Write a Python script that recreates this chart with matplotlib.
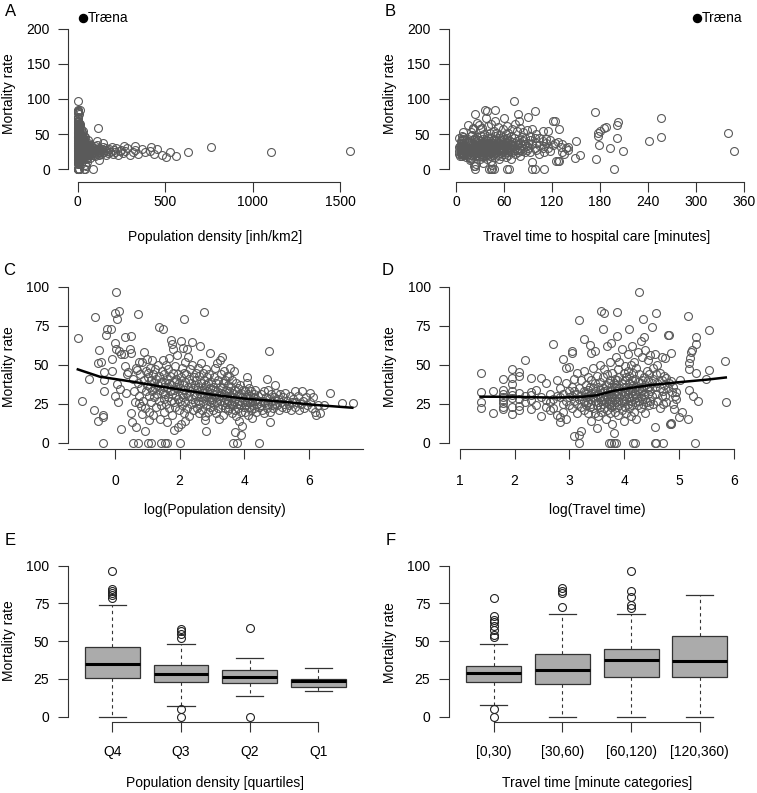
import numpy as np
import matplotlib
matplotlib.use("Agg")
import matplotlib.pyplot as plt

plt.rcParams['font.family'] = ['Liberation Sans', 'DejaVu Sans']
plt.rcParams['font.size'] = 10

W, H = 757, 793

# log(population density) vs mortality rate, one pair per municipality (panels A, C)
density_points = [
    (-1.13, 67.1), (-1.01, 26.9), (-0.81, 40.8), (-0.63, 80.8), (-0.64, 20.9), (-0.52, 13.9),
    (-0.51, 59.4), (-0.54, 51.3), (-0.42, 51.9), (-0.36, 17.7), (-0.37, 16.2), (-0.38, 0),
    (-0.35, 33.1), (-0.34, 40), (-0.33, 45.3), (-0.28, 69), (-0.25, 72.6), (-0.12, 72.6),
    (-0.1, 53.8), (-0.09, 46.2), (0, 29.9), (0.03, 96.8), (0.01, 83.3), (0.01, 64.1),
    (0.03, 59.8), (0.07, 79.5), (0.12, 84.4), (0.08, 26.1), (0.05, 37.6), (0.13, 58.8),
    (0.15, 34.4), (0.19, 57.1), (0.2, 8.8), (0.28, 56.6), (0.3, 49.1), (0.32, 67.9),
    (0.35, 32), (0.37, 43.8), (0.4, 45.5), (0.45, 59.8), (0.48, 68.4), (0.48, 19.2),
    (0.49, 57.3), (0.53, 13), (0.57, 0), (0.64, 10.3), (0.67, 46.6), (0.71, 0), (0.72, 82.3),
    (0.75, 51.9), (0.75, 25.6), (0.8, 23.7), (0.85, 18.4), (0.91, 58.3), (0.94, 7.7),
    (0.98, 53.4), (1.01, 0), (1.11, 0), (1.04, 14.5), (1.02, 44.9), (1.37, 74.4), (1.49, 72.6),
    (1.42, 0), (1.54, 0), (1.6, 0), (2.02, 0), (2.14, 79.1), (2.37, 64.5), (2.63, 62),
    (2.76, 84), (2.94, 57.3), (2.8, 7.5), (2.77, 14.5), (3.32, 55.1), (3.66, 0), (3.77, 0),
    (3.71, 6.6), (3.91, 4.9), (3.93, 10.7), (4.09, 42.3), (4.44, 0), (4.69, 40.8),
    (4.77, 58.8), (4.79, 13), (4.96, 37), (5.58, 33.1), (5.79, 33.1), (6.04, 31.6),
    (6.64, 31.6), (7.01, 25.2), (7.35, 25.6),
    (0.55, 41), (0.6, 33), (0.62, 26), (0.66, 48), (0.7, 38), (0.73, 30), (0.76, 44), (0.8, 35),
    (0.83, 52), (0.86, 27), (0.9, 40), (0.93, 22), (0.95, 46), (0.97, 33), (0.99, 37),
    (1.02, 42), (1.04, 30), (1.05, 20), (1.07, 48), (1.08, 36), (1.1, 26), (1.12, 40), (1.13, 53),
    (1.15, 33), (1.17, 44), (1.18, 18), (1.2, 38), (1.22, 29), (1.23, 47), (1.25, 35), (1.27, 23),
    (1.28, 41), (1.3, 31), (1.32, 50), (1.33, 37), (1.35, 27), (1.37, 43), (1.38, 15), (1.4, 34),
    (1.42, 39), (1.43, 24), (1.45, 46), (1.47, 32), (1.48, 53), (1.5, 36),
    (1.51, 28), (1.52, 44), (1.53, 20), (1.55, 38), (1.56, 31), (1.57, 50), (1.58, 25), (1.6, 41),
    (1.61, 35), (1.62, 13), (1.63, 47), (1.65, 29), (1.66, 38), (1.67, 22), (1.68, 54), (1.7, 33),
    (1.71, 43), (1.72, 27), (1.73, 66), (1.74, 37), (1.75, 18), (1.76, 63), (1.77, 31), (1.78, 45),
    (1.8, 60), (1.81, 26), (1.82, 39), (1.83, 8), (1.84, 34), (1.85, 49), (1.87, 23), (1.88, 41),
    (1.9, 30), (1.91, 56), (1.92, 36), (1.94, 10), (1.95, 44), (1.96, 28), (1.98, 38), (1.99, 21),
    (2.01, 35), (2.02, 27), (2.03, 65), (2.04, 42), (2.05, 12), (2.06, 31), (2.07, 48), (2.08, 24),
    (2.09, 61), (2.1, 37), (2.11, 29), (2.12, 45), (2.13, 19), (2.14, 34), (2.15, 52), (2.16, 14),
    (2.17, 39), (2.18, 26), (2.2, 44), (2.21, 32), (2.22, 60), (2.23, 22), (2.25, 36), (2.26, 55),
    (2.27, 30), (2.28, 41), (2.3, 17), (2.31, 33), (2.32, 47), (2.34, 25), (2.35, 38), (2.37, 28),
    (2.38, 50), (2.4, 35), (2.41, 21), (2.43, 42), (2.44, 31), (2.46, 26), (2.47, 37), (2.49, 45),
    (2.51, 30), (2.52, 40), (2.53, 22), (2.55, 34), (2.56, 48), (2.57, 27), (2.58, 36), (2.6, 19),
    (2.61, 43), (2.62, 31), (2.63, 25), (2.65, 38), (2.66, 51), (2.67, 29), (2.68, 34), (2.7, 21),
    (2.71, 45), (2.72, 32), (2.73, 27), (2.75, 40), (2.76, 35), (2.77, 17), (2.78, 30), (2.8, 47),
    (2.81, 24), (2.82, 37), (2.83, 29), (2.85, 42), (2.86, 33), (2.87, 20), (2.88, 38), (2.9, 27),
    (2.91, 31), (2.92, 44), (2.94, 23), (2.95, 35), (2.96, 29), (2.97, 39), (2.98, 26), (2.99, 32),
    (3.01, 28), (3.02, 36), (3.03, 21), (3.05, 42), (3.06, 31), (3.07, 25), (3.08, 48), (3.1, 34),
    (3.11, 19), (3.12, 29), (3.13, 38), (3.15, 51), (3.16, 26), (3.17, 33), (3.18, 22), (3.2, 40),
    (3.21, 30), (3.22, 15), (3.24, 36), (3.25, 53), (3.26, 27), (3.27, 32), (3.28, 44), (3.3, 24),
    (3.31, 35), (3.32, 29), (3.34, 18), (3.35, 38), (3.36, 46), (3.37, 26), (3.38, 31), (3.4, 22),
    (3.41, 40), (3.42, 28), (3.44, 34), (3.45, 43), (3.46, 25), (3.47, 30), (3.48, 37), (3.49, 21),
    (3.51, 27), (3.52, 43), (3.53, 33), (3.54, 22), (3.56, 48), (3.57, 30), (3.58, 25), (3.6, 36),
    (3.61, 19), (3.62, 29), (3.63, 40), (3.65, 24), (3.66, 32), (3.67, 27), (3.68, 46), (3.7, 21),
    (3.71, 34), (3.72, 28), (3.74, 38), (3.75, 17), (3.76, 30), (3.78, 25), (3.79, 35), (3.8, 22),
    (3.82, 31), (3.83, 14), (3.84, 27), (3.86, 37), (3.87, 24), (3.89, 32), (3.9, 20), (3.92, 29),
    (3.94, 26), (3.96, 34), (3.98, 23),
    (4.01, 27), (4.02, 33), (4.03, 20), (4.05, 29), (4.06, 24), (4.07, 38), (4.09, 26), (4.1, 31),
    (4.11, 18), (4.13, 28), (4.14, 35), (4.15, 23), (4.17, 30), (4.18, 26), (4.2, 21), (4.21, 33),
    (4.23, 27), (4.24, 16), (4.26, 29), (4.27, 24), (4.29, 31), (4.3, 22), (4.32, 27), (4.34, 34),
    (4.35, 20), (4.37, 28), (4.39, 25), (4.42, 30), (4.45, 23), (4.48, 27),
    (4.51, 24), (4.53, 31), (4.55, 21), (4.58, 27), (4.6, 33), (4.62, 19), (4.65, 26), (4.67, 29),
    (4.7, 22), (4.72, 34), (4.74, 25), (4.77, 28), (4.8, 20), (4.82, 31), (4.85, 24), (4.87, 27),
    (4.9, 22), (4.93, 29), (4.96, 25), (4.99, 32),
    (5.02, 24), (5.05, 28), (5.08, 21), (5.1, 31), (5.13, 26), (5.17, 23), (5.2, 29), (5.23, 25),
    (5.27, 32), (5.3, 22), (5.33, 27), (5.37, 24), (5.4, 30), (5.45, 21), (5.48, 26),
    (5.52, 28), (5.56, 23), (5.6, 26), (5.65, 30), (5.7, 21), (5.75, 25), (5.8, 27), (5.85, 22),
    (5.9, 29), (5.95, 24),
    (6.02, 26), (6.08, 22), (6.12, 29), (6.18, 20), (6.22, 18), (6.27, 24), (6.33, 19), (6.45, 24),
]

# travel time to hospital (minutes) vs mortality rate (panels B, D)
travel_points = [
    (4, 44.7), (4, 32.3), (4, 26.1), (4, 22.4), (5, 32.9), (5, 19.2),
    (6, 40.6), (6, 33.8), (6, 31.2), (6, 29.1), (6, 27.4), (6, 25.2), (6, 23.1), (6, 21.4),
    (7, 47), (7, 41.7), (7, 37.4), (7, 33.3), (7, 28.4), (7, 23.1), (7, 18.4), (7, 30.5),
    (8, 45.5), (8, 42.7), (8, 32), (8, 27.8), (8, 23.5), (8, 20.9), (9, 53), (9, 30), (9, 26),
    (10, 41.2), (10, 32.7), (10, 30.6), (10, 21.4), (10, 27.4), (11, 34), (11, 24),
    (12, 41.7), (12, 17.1), (12, 29), (13, 38.5), (13, 27.4), (13, 23.1), (14, 20.9), (14, 31), (14, 26),
    (15, 63.2), (15, 28), (15, 22), (16, 40), (16, 30), (16, 18),
    (17, 13), (17, 29.5), (17, 16.7), (17, 35), (18, 53.4), (18, 25), (18, 31), (18, 20),
    (19, 47.6), (19, 27), (19, 38), (19, 15), (20, 48.3), (20, 33), (20, 24), (20, 29),
    (21, 58.8), (21, 57.3), (21, 30), (21, 22), (21, 36), (22, 4.5), (22, 27), (22, 41), (22, 33),
    (23, 25), (23, 31), (23, 19), (23, 45), (24, 78.6), (24, 0), (24, 4.9), (24, 28), (24, 35),
    (25, 7.7), (25, 30), (25, 23), (25, 40), (26, 66.2), (26, 27), (26, 33), (26, 21), (26, 46),
    (27, 29), (27, 37), (27, 24), (27, 31), (28, 26), (28, 42), (28, 19), (28, 34), (28, 30),
    (29, 62.6), (29, 28), (29, 36), (29, 23), (30, 57.7), (30, 32), (30, 25), (30, 40), (30, 14),
    (31, 29), (31, 35), (31, 22), (31, 48), (32, 59), (32, 27), (32, 33), (32, 19), (32, 38),
    (33, 9.2), (33, 30), (33, 24), (33, 43), (34, 26), (34, 36), (34, 31), (34, 17),
    (35, 29), (35, 50), (35, 23), (35, 34), (35, 39), (36, 84.4), (36, 27), (36, 32), (36, 20),
    (37, 72.6), (37, 35), (37, 25), (37, 42), (37, 30), (38, 82.9), (38, 28), (38, 47), (38, 22), (38, 33),
    (39, 30), (39, 37), (39, 15), (39, 26), (40, 62), (40, 34), (40, 28), (40, 44), (40, 21),
    (41, 0), (41, 31), (41, 38), (41, 25), (42, 27), (42, 52), (42, 33), (42, 19), (42, 40),
    (43, 64.1), (43, 0), (43, 30), (43, 36), (43, 23), (44, 29), (44, 45), (44, 26), (44, 12), (44, 34),
    (45, 6), (45, 0), (45, 32), (45, 38), (45, 24), (46, 41), (46, 28), (46, 20), (46, 35),
    (47, 0), (47, 30), (47, 55), (47, 26), (47, 37), (48, 84), (48, 68.4), (48, 33), (48, 23), (48, 40),
    (49, 27), (49, 47), (49, 31), (49, 18), (50, 35), (50, 29), (50, 52), (50, 24), (50, 42),
    (52, 38), (52, 26), (52, 33), (52, 60), (52, 21), (54, 30), (54, 45), (54, 36), (54, 14), (54, 27),
    (55, 32), (55, 40), (55, 23), (55, 49), (56, 28), (56, 36), (56, 19), (56, 42),
    (58, 34), (58, 25), (58, 57), (58, 31), (58, 46), (60, 72.6), (60, 38), (60, 29), (60, 43), (60, 22),
    (62, 35), (62, 27), (62, 50), (62, 17), (63, 33), (63, 40), (63, 24), (63, 62),
    (64, 0), (64, 37), (64, 30), (64, 45), (65, 28), (65, 52), (65, 35), (65, 20),
    (66, 0), (66, 41), (66, 32), (66, 26), (68, 36), (68, 48), (68, 29), (68, 15),
    (70, 39), (70, 33), (70, 58), (70, 24), (72, 96.8), (72, 35), (72, 44), (72, 27),
    (74, 38), (74, 30), (74, 65), (74, 22), (76, 40), (76, 34), (76, 55), (76, 28),
    (77, 79), (77, 36), (77, 25), (78, 68), (78, 42), (78, 31), (80, 59.4), (80, 37), (80, 28), (80, 19),
    (82, 35), (82, 46), (82, 26), (84, 40), (84, 31), (84, 53), (86, 36), (86, 24), (86, 44),
    (88, 33), (88, 56), (88, 27), (90, 74.4), (90, 38), (90, 30), (92, 41), (92, 25), (92, 48),
    (95, 10.3), (95, 0), (95, 36), (95, 57), (98, 83.3), (98, 0), (98, 31), (98, 44),
    (100, 38), (100, 27), (100, 50), (104, 35), (104, 45), (104, 22), (108, 40), (108, 30), (108, 55),
    (110, 0), (110, 33), (110, 25), (112, 43), (112, 37), (115, 54.5), (115, 30), (117, 41.7), (117, 26),
    (121, 69.2), (121, 35), (124, 69), (124, 38), (125, 11.8), (127, 11.8), (127, 39.3),
    (129, 57.3), (129, 12.4), (131, 32.2), (133, 25), (133, 36), (135, 21.8), (138, 30),
    (140, 32.2), (140, 28), (149, 16.6), (150, 40.3), (155, 20),
    (174, 81), (175, 15.2), (177, 51.2), (177, 47.4), (179, 34.1), (180, 54.5), (185, 58.3),
    (188, 59.7), (192, 29.9), (197, 0), (201, 44.5), (201, 63), (202, 67.8), (209, 26.5),
    (242, 40.8), (256, 72.5), (256, 46.4), (340, 52.1), (348, 26.1),
]

# Træna, the outlying municipality
trana_density = 32
trana_travel = 302
trana_mortality = 215

lowess_c_x = [-1.15, -0.47, 0.55, 1.44, 2.2, 3.06, 4.0, 5.12, 6.2, 7.34]
lowess_c_y = [47, 42.3, 39.1, 35.9, 33.5, 30.6, 28.3, 26.4, 24.2, 22.4]
lowess_d_x = [1.38, 2.0, 2.7, 3.2, 3.5, 3.8, 4.09, 4.5, 5.0, 5.5, 5.85]
lowess_d_y = [29.5, 29.4, 28.9, 29.3, 30.4, 33.2, 35.0, 37.0, 38.8, 40.4, 41.8]

# boxplot E: population density quartiles
dens_labels = ['Q4', 'Q3', 'Q2', 'Q1']
dens_whislo = [0, 6.8, 13.5, 17.2]
dens_q1 = [25.6, 23, 22.1, 19.6]
dens_med = [35.1, 28.3, 26.3, 23.8]
dens_q3 = [46.1, 34.4, 31.1, 25.2]
dens_whishi = [74.2, 48.1, 38.9, 32.0]
dens_fliers = [[96.5, 84.9, 83.4, 82, 80.5, 78.4],
               [58.1, 56.5, 54.5, 52.1, 5.3, 0],
               [58.5, 0],
               []]

# boxplot F: travel time categories
trav_labels = ['[0,30)', '[30,60)', '[60,120)', '[120,360)']
trav_whislo = [7.7, 0, 0, 0]
trav_q1 = [22.7, 21.4, 26.3, 26.3]
trav_med = [28.7, 30.9, 37.3, 37.1]
trav_q3 = [33.8, 41.7, 44.6, 53.2]
trav_whishi = [48.3, 68.2, 67.8, 80.6]
trav_fliers = [[78.4, 66.7, 64, 62.5, 60.3, 57.4, 54.1, 53, 5.1, 0],
               [72.4, 85, 83.4, 82],
               [96.5, 83.4, 79, 74, 72.2],
               []]

AX_COL = '#333333'
PT_COL = '#5a5a5a'


def add_panel(fig, left, top, right, bottom):
    return fig.add_axes([left / W, 1 - bottom / H, (right - left) / W, (bottom - top) / H])


def px_lim(v0, p0, v1, p1, e0, e1):
    scale = (v1 - v0) / (p1 - p0)
    return v0 + (e0 - p0) * scale, v0 + (e1 - p0) * scale


def style_axes(ax, xb, yb, xpad):
    for s in ['top', 'right']:
        ax.spines[s].set_visible(False)
    for s in ['left', 'bottom']:
        ax.spines[s].set_color(AX_COL)
        ax.spines[s].set_linewidth(0.8)
    ax.spines['bottom'].set_bounds(*xb)
    ax.spines['left'].set_bounds(*yb)
    ax.tick_params(axis='both', length=7, width=0.8, color=AX_COL, labelsize=10)
    ax.tick_params(axis='x', pad=xpad)
    ax.tick_params(axis='y', pad=6.2)
    ax.patch.set_alpha(0)


def draw_scatter(ax, x, y):
    ax.plot(x, y, 'o', ls='none', mfc='none', mec=PT_COL, ms=5.7, mew=0.8, clip_on=False)


def draw_box(ax, whislo, q1, med, q3, whishi, fliers, labels):
    stats = []
    for i in range(len(labels)):
        stats.append(dict(whislo=whislo[i], q1=q1[i], med=med[i], q3=q3[i],
                          whishi=whishi[i], fliers=fliers[i]))
    ax.bxp(stats, positions=range(1, len(labels) + 1), widths=0.8, capwidths=0.4,
           patch_artist=True,
           boxprops=dict(facecolor='#ababab', edgecolor='#333333', linewidth=0.9),
           medianprops=dict(color='black', linewidth=2.2, solid_capstyle='butt'),
           whiskerprops=dict(color='#333333', linestyle=(0, (3, 3)), linewidth=0.8),
           capprops=dict(color='#333333', linewidth=0.9),
           flierprops=dict(marker='o', markerfacecolor='none', markeredgecolor='#222222',
                           markersize=5.7, markeredgewidth=0.8))
    ax.set_xticks(range(1, len(labels) + 1))
    ax.set_xticklabels(labels)


log_density = np.array([p[0] for p in density_points])
mort_density = np.array([p[1] for p in density_points])
travel_min = np.array([p[0] for p in travel_points], dtype=float)
mort_travel = np.array([p[1] for p in travel_points])

fig = plt.figure(figsize=(W / 100, H / 100), dpi=100)

# A
ax = add_panel(fig, 68.3, 12, 362, 181.7)
ax.set_xlim(*px_lim(0, 77.7, 1500, 340, 68.3, 362))
ax.set_ylim(*px_lim(0, 169.3, 200, 28.7, 181.7, 12))
draw_scatter(ax, np.exp(log_density), mort_density)
ax.plot([trana_density], [trana_mortality], 'o', color='black', ms=5.8, clip_on=False)
ax.annotate('Træna', (trana_density, trana_mortality), xytext=(3, 0),
            textcoords='offset points', va='center', ha='left')
ax.set_xticks([0, 500, 1000, 1500])
ax.set_yticks([0, 50, 100, 150, 200])
style_axes(ax, (0, 1500), (0, 200), 2.5)

# B
ax = add_panel(fig, 448.7, 12, 746, 181.7)
ax.set_xlim(*px_lim(0, 456.3, 360, 743.7, 448.7, 746))
ax.set_ylim(*px_lim(0, 169.3, 200, 28.7, 181.7, 12))
draw_scatter(ax, travel_min, mort_travel)
ax.plot([trana_travel], [trana_mortality], 'o', color='black', ms=5.8, clip_on=False)
ax.annotate('Træna', (trana_travel, trana_mortality), xytext=(3, 0),
            textcoords='offset points', va='center', ha='left')
ax.set_xticks([0, 60, 120, 180, 240, 300, 360])
ax.set_yticks([0, 50, 100, 150, 200])
style_axes(ax, (0, 360), (0, 200), 2.5)

# C
ax = add_panel(fig, 67.7, 280, 363.3, 449.3)
xl = px_lim(0, 115, 6, 309, 67.7, 363.3)
ax.set_xlim(*xl)
ax.set_ylim(*px_lim(0, 442.7, 100, 286.7, 449.3, 280))
draw_scatter(ax, log_density, mort_density)
ax.plot(lowess_c_x, lowess_c_y, color='black', lw=1.8)
ax.set_xticks([0, 2, 4, 6])
ax.set_yticks([0, 25, 50, 75, 100])
style_axes(ax, xl, (0, 100), 10.5)

# D
ax = add_panel(fig, 449, 280, 745, 449.3)
ax.set_xlim(*px_lim(1, 459.7, 6, 734, 449, 745))
ax.set_ylim(*px_lim(0, 442.7, 100, 286.7, 449.3, 280))
draw_scatter(ax, np.log(travel_min), mort_travel)
ax.plot(lowess_d_x, lowess_d_y, color='black', lw=1.8)
ax.set_xticks([1, 2, 3, 4, 5, 6])
ax.set_yticks([0, 25, 50, 75, 100])
style_axes(ax, (1, 6), (0, 100), 10.5)

# E
ax = add_panel(fig, 67.7, 555, 363.6, 722.3)
draw_box(ax, dens_whislo, dens_q1, dens_med, dens_q3, dens_whishi, dens_fliers, dens_labels)
ax.set_xlim(*px_lim(1, 112.3, 4, 318.3, 67.7, 363.6))
ax.set_ylim(*px_lim(0, 716.7, 100, 565.7, 722.3, 555))
ax.set_yticks([0, 25, 50, 75, 100])
style_axes(ax, (1, 4), (0, 100), 9)

# F
ax = add_panel(fig, 448.7, 555, 744.6, 722.3)
draw_box(ax, trav_whislo, trav_q1, trav_med, trav_q3, trav_whishi, trav_fliers, trav_labels)
ax.set_xlim(*px_lim(1, 493.7, 4, 699.7, 448.7, 744.6))
ax.set_ylim(*px_lim(0, 716.7, 100, 565.7, 722.3, 555))
ax.set_yticks([0, 25, 50, 75, 100])
style_axes(ax, (1, 4), (0, 100), 9)

# axis titles and panel letters, placed in pixel coordinates
def ftext(x, y, s, **kw):
    fig.text(x / W, 1 - y / H, s, ha='center', va='center', **kw)

ftext(215, 236.7, 'Population density [inh/km2]')
ftext(597, 236.7, 'Travel time to hospital care [minutes]')
ftext(215, 510, 'log(Population density)')
ftext(597, 510, 'log(Travel time)')
ftext(215, 783.3, 'Population density [quartiles]')
ftext(597, 783.3, 'Travel time [minute categories]')

for x, y in [(9.3, 93.5), (389.7, 93.5), (9.3, 366.7), (389.7, 366.7), (9.3, 640.8), (389.7, 642.5)]:
    ftext(x, y, 'Mortality rate', rotation=90)

for x, y, s in [(10.3, 11, 'A'), (389.7, 11, 'B'), (9.2, 270.8, 'C'), (388, 270.8, 'D'),
                (10, 540.8, 'E'), (390.5, 540.8, 'F')]:
    ftext(x, y, s, fontsize=12)

fig.savefig('out.png', dpi=100)
